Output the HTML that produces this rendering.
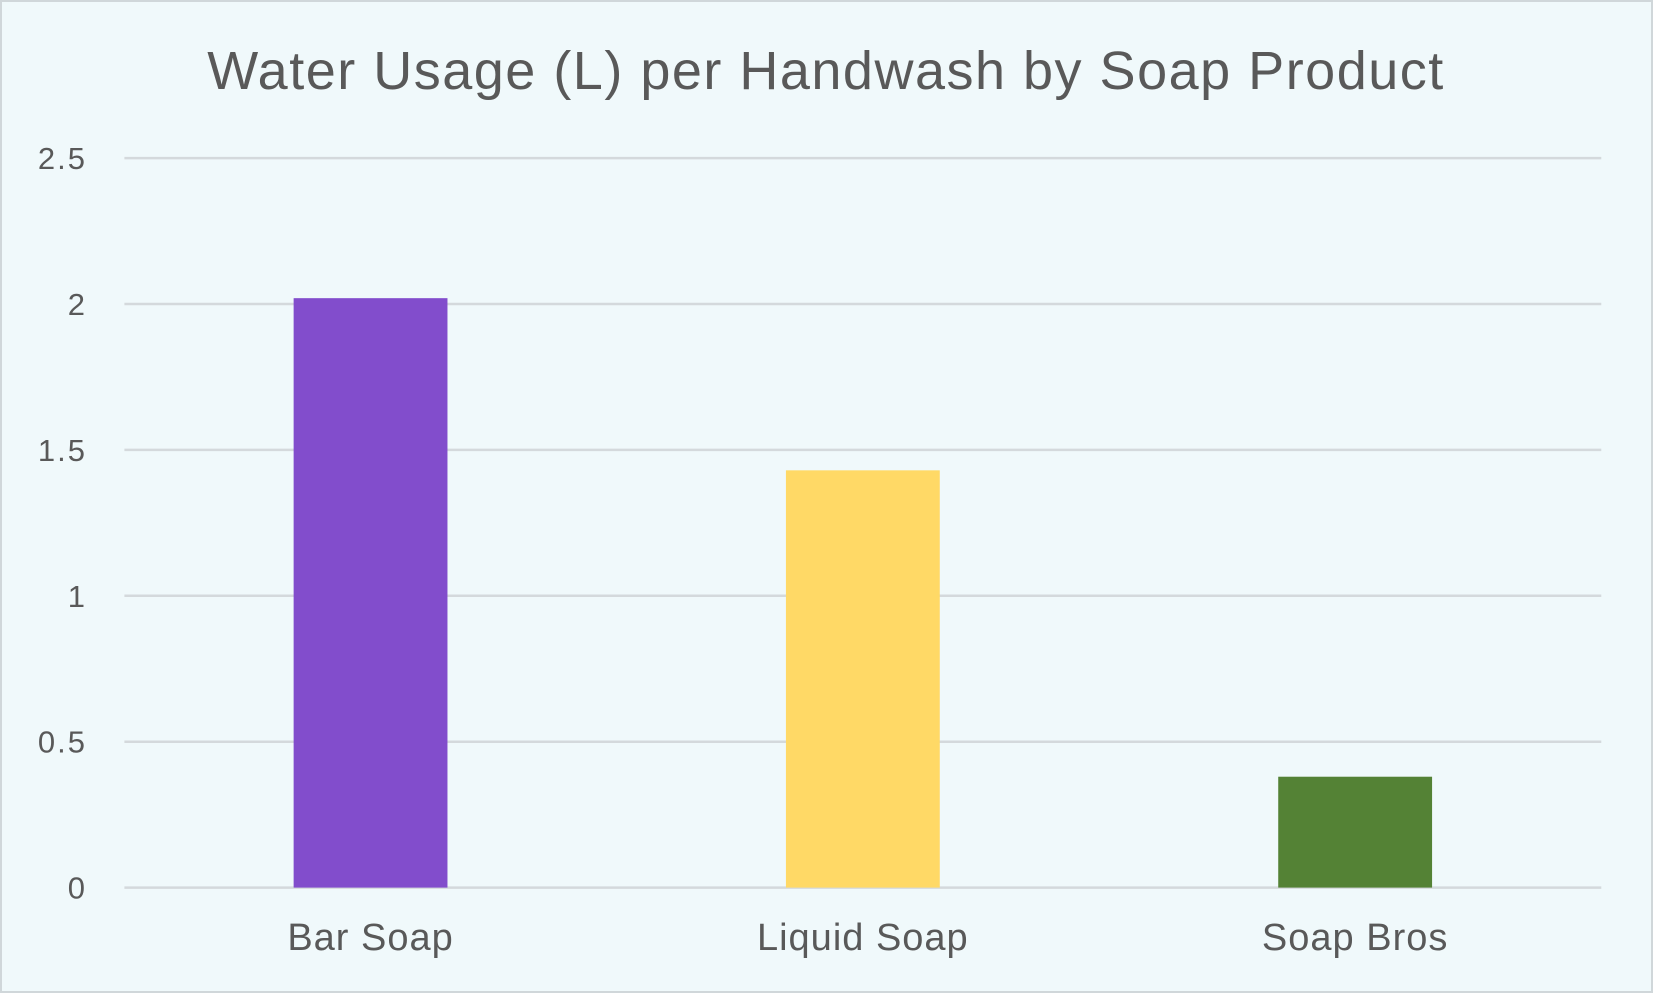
<!DOCTYPE html>
<html><head><meta charset="utf-8"><style>
html,body{margin:0;padding:0;background:#fff;}
svg{display:block;font-family:"Liberation Sans",sans-serif;}
</style></head><body>
<svg id="chart" width="1653" height="993" viewBox="0 0 1653 993">
<rect x="1" y="1" width="1651" height="991" fill="#f0f9fb" stroke="#d0d7da" stroke-width="2"/>
<text x="826" y="89" text-anchor="middle" font-size="54" letter-spacing="1.5" fill="#595959">Water Usage (L) per Handwash by Soap Product</text>
<g id="grid"></g><g id="bars"></g><g id="labels"></g>
</svg>
<script>
const categories=["Bar Soap","Liquid Soap","Soap Bros"];
const values=[2.02,1.43,0.38];
const colors=["#824dcc","#ffd966","#548235"];
const ticks=[0,0.5,1,1.5,2,2.5];
const tickLabels=["0","0.5","1","1.5","2","2.5"];
const ns="http://www.w3.org/2000/svg";
const x0=124.4,x1=1601.3,y0=887.6,yTop=158.1,yMax=2.5;
const y=v=>y0-(v/yMax)*(y0-yTop);
const band=(x1-x0)/categories.length;
const bw=band*0.3125;
function mk(t,a,p){const e=document.createElementNS(ns,t);for(const k in a)e.setAttribute(k,a[k]);p.appendChild(e);return e;}
const g=document.getElementById('grid'),b=document.getElementById('bars'),l=document.getElementById('labels');
ticks.forEach((t,i)=>{
 const ln=mk('line',{x1:x0,x2:x1,y1:y(t),y2:y(t),stroke:'#d4d9dc','stroke-width':2.5},g);
 
 
 const tx=mk('text',{x:87,y:y(t)+11,'text-anchor':'end','font-size':31,'letter-spacing':2,fill:'#595959'},g);
 tx.textContent=tickLabels[i];
 
 
});
categories.forEach((c,i)=>{
 const cx=x0+band*(i+0.5);
 const r=mk('rect',{x:cx-bw/2,y:y(values[i]),width:bw,height:y0-y(values[i]),fill:colors[i]},b);
 
 
 const t=mk('text',{x:cx,y:950,'text-anchor':'middle','font-size':38,'letter-spacing':1,fill:'#595959'},l);
 t.textContent=c;
 
 
});
</script>
</body></html>
